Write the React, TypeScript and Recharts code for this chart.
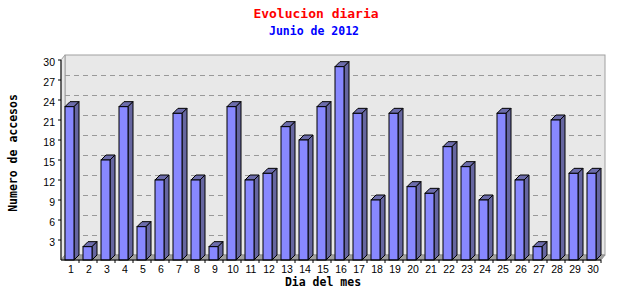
import React from "react";
import { Bar, BarChart, CartesianGrid, ReferenceArea, XAxis, YAxis } from "recharts";

const days = [
  "1", "2", "3", "4", "5", "6", "7", "8", "9", "10",
  "11", "12", "13", "14", "15", "16", "17", "18", "19", "20",
  "21", "22", "23", "24", "25", "26", "27", "28", "29", "30",
];
const accesos = [
  23, 2, 15, 23, 5, 12, 22, 12, 2, 23,
  12, 13, 20, 18, 23, 29, 22, 9, 22, 11,
  10, 17, 14, 9, 22, 12, 2, 21, 13, 13,
];
const yTicks = [3, 6, 9, 12, 15, 18, 21, 24, 27, 30];

const data = days.map((d, i) => ({ dia: d, accesos: accesos[i] }));

const DEPTH = 5;
const WALL_DX = 4;
const WALL_DY = 5;
const tickFont = "'Liberation Sans', Arial, sans-serif";
const titleFont = "'DejaVu Sans Mono', monospace";

function Bar3D(props: any) {
  const { x, y, width, height } = props;
  if (height <= 0) return <g />;
  const fx = x - 1;
  const d = DEPTH;
  return (
    <g stroke="#000" strokeWidth={1}>
      <polygon
        points={`${fx},${y} ${fx + d},${y - d} ${fx + width + d},${y - d} ${fx + width},${y}`}
        fill="#6c6cab"
      />
      <polygon
        points={`${fx + width},${y} ${fx + width + d},${y - d} ${fx + width + d},${y + height - d} ${fx + width},${y + height}`}
        fill="#6666a0"
      />
      <rect x={fx} y={y} width={width} height={height} fill="#8888ff" />
    </g>
  );
}

function Walls(props: any) {
  const { x, y, width, height } = props;
  const b = y + height;
  const r = x + width;
  return (
    <g>
      <rect
        x={x + WALL_DX}
        y={y - WALL_DY}
        width={width}
        height={height}
        fill="#e8e8e8"
        stroke="#a0a0a0"
      />
      <polygon
        points={`${x},${y} ${x + WALL_DX},${y - WALL_DY} ${x + WALL_DX},${b - WALL_DY} ${x},${b}`}
        fill="#e8e8e8"
        stroke="#a0a0a0"
      />
      <polygon
        points={`${x},${b} ${x + WALL_DX},${b - WALL_DY} ${r + WALL_DX},${b - WALL_DY} ${r},${b}`}
        fill="#a0a0a0"
        stroke="#909090"
      />
    </g>
  );
}

function GridLine(p: any) {
  if (typeof p.y === "number" && Math.abs(p.y1 - p.y) < 1) return <g key={p.key} />;
  const gy = Math.round(p.y1 - WALL_DY) + 0.5;
  return (
    <line
      key={p.key}
      x1={p.x1 + WALL_DX}
      x2={p.x2 + WALL_DX}
      y1={gy}
      y2={gy}
      stroke="#999"
      strokeDasharray="5 4"
    />
  );
}

function DayTick(props: any) {
  const { x, y, payload, width, visibleTicksCount } = props;
  const half = width / visibleTicksCount / 2;
  return (
    <g>
      <line x1={x + half} x2={x + half} y1={y - 5} y2={y - 2} stroke="#000" />
      <text
        x={x + 1}
        y={y}
        dy="0.75em"
        textAnchor="middle"
        fill="#000"
        fontSize={10.5}
        fontFamily={tickFont}
      >
        {payload.value}
      </text>
    </g>
  );
}

export default function App() {
  return (
    <div style={{ position: "absolute", left: 0, top: 0, width: 640, height: 300, background: "#fff" }}>
      <div
        style={{
          position: "absolute", left: 0, top: 7, width: 632, textAlign: "center",
          color: "#ff0000", fontFamily: titleFont, fontWeight: "bold", fontSize: 13, lineHeight: "14px",
        }}
      >
        Evolucion diaria
      </div>
      <div
        style={{
          position: "absolute", left: 0, top: 25, width: 628, textAlign: "center",
          color: "#0000ff", fontFamily: titleFont, fontWeight: "bold", fontSize: 11.5, lineHeight: "13px",
        }}
      >
        Junio de 2012
      </div>
      <BarChart
        width={640}
        height={300}
        data={data}
        margin={{ top: 60, right: 39, bottom: 0, left: 0 }}
        barCategoryGap={0}
      >
        <ReferenceArea y1={0} y2={30} shape={Walls} zIndex={-200} />
        <CartesianGrid vertical={false} horizontal={GridLine} zIndex={-100} />
        <XAxis
          dataKey="dia"
          height={40}
          axisLine={{ stroke: "#000" }}
          tickLine={false}
          tickSize={3}
          tickMargin={2}
          tick={DayTick}
          interval={0}
        />
        <YAxis
          width={61}
          domain={[0, 30]}
          ticks={yTicks}
          interval={0}
          axisLine={{ stroke: "#000" }}
          tickLine={{ stroke: "#000" }}
          tickSize={3}
          tickMargin={3}
          tick={{ fill: "#000", fontSize: 10.5, fontFamily: tickFont, dy: 2 }}
        />
        <Bar dataKey="accesos" barSize={9} shape={Bar3D} isAnimationActive={false} />
      </BarChart>
      <div
        style={{
          position: "absolute", left: 323, top: 282, transform: "translate(-50%, -50%)",
          whiteSpace: "nowrap", fontFamily: titleFont, fontWeight: "bold", fontSize: 11.5,
          lineHeight: "12px", color: "#000",
        }}
      >
        Dia del mes
      </div>
      <div
        style={{
          position: "absolute", left: 13, top: 153, transform: "translate(-50%, -50%) rotate(-90deg)",
          whiteSpace: "nowrap", fontFamily: titleFont, fontWeight: "bold", fontSize: 11.5,
          lineHeight: "12px", color: "#000",
        }}
      >
        Numero de accesos
      </div>
    </div>
  );
}
